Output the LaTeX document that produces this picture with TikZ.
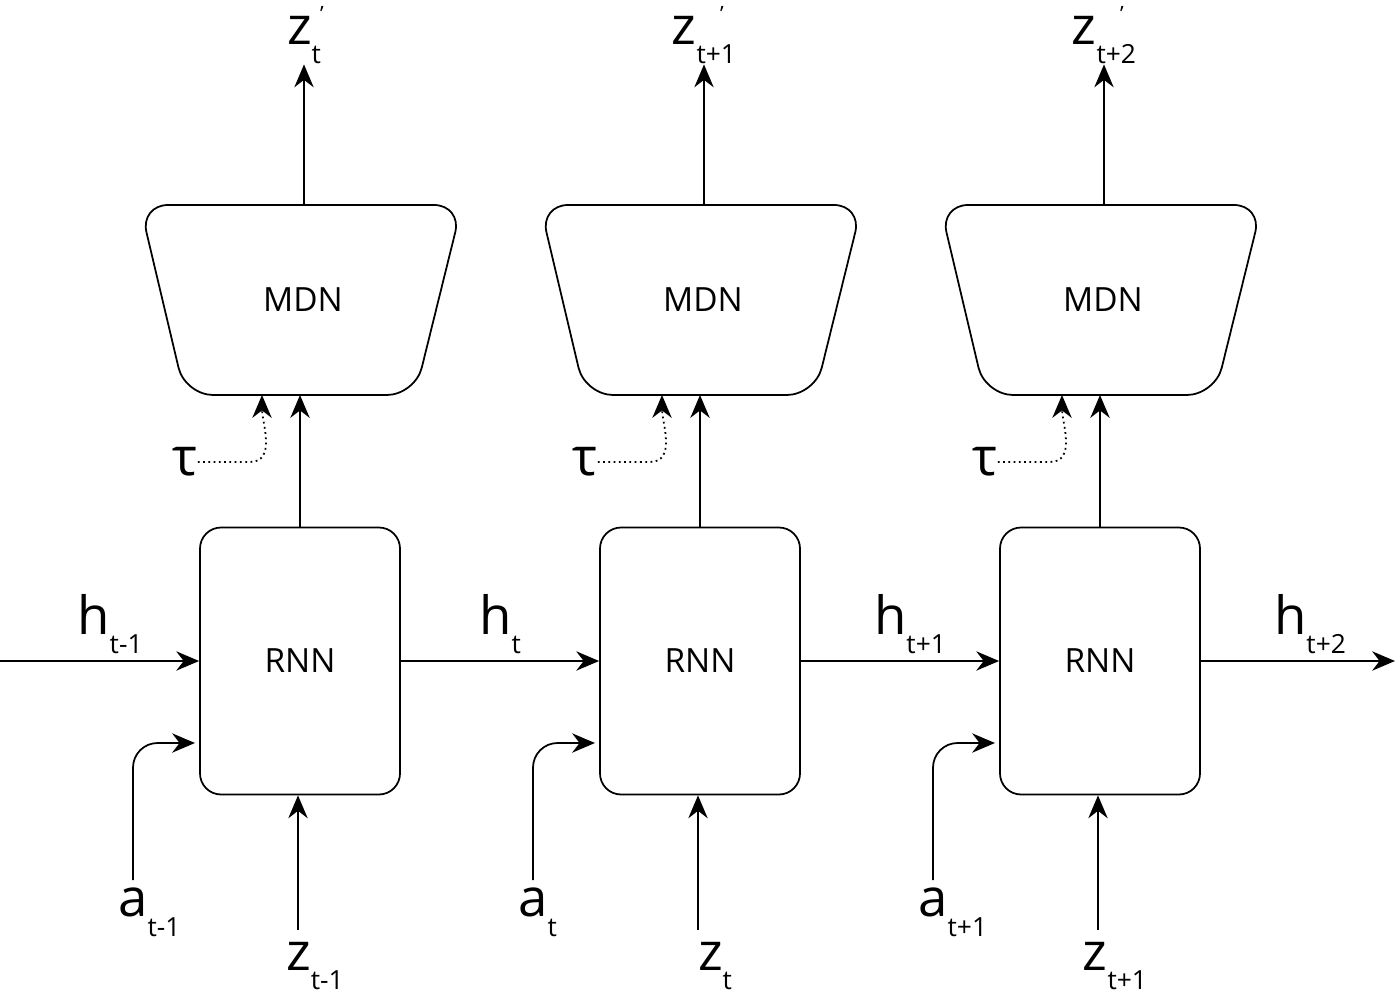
\documentclass[tikz,border=0pt]{standalone}
\usepackage{fontspec}
\setmainfont{Open Sans}
\usetikzlibrary{arrows.meta}
\newcommand\subtx[1]{\raisebox{-0.7ex}{\fontsize{15}{15}\selectfont #1}}
\begin{document}
\begin{tikzpicture}[x=0.02cm,y=-0.02cm,
  ln/.style={line width=1pt},
  ar/.style={ln,-{Stealth[length=13pt,width=11pt]}},
  big/.style={font=\fontsize{30}{30}\selectfont,inner sep=0pt},
  mid/.style={font=\fontsize{19}{19}\selectfont}]
\useasboundingbox (0,0) rectangle (1397,997);
\foreach \i/\c/\prev/\hn/\an/\zn/\zp in {1/300/t-1/t/t-1/t-1/t,2/700/t/t+1/t/t/t+1,3/1100/t+1/t+2/t+1/t+1/t+2}{
  \node[draw,ln,rounded corners=12pt,minimum width=200*0.02cm,minimum height=267*0.02cm,mid] (rnn\i) at (\c,661) {RNN};
  \draw[ln,rounded corners=16pt] (\c-160,205) -- (\c+162,205) -- (\c+115,395) -- (\c-115,395) -- cycle;
  \node[mid] (mdn\i) at (\c+3,300) {MDN};
  \coordinate (mb\i) at (\c,395);
  \coordinate (mt\i) at (\c+4,205);
  \coordinate (tb\i) at (\c-38,395);
  \node[big] (zo\i) at (\c+4,40) {z\subtx{\zp}};
  \node[font=\fontsize{12}{12}\selectfont] at (\c+22,14) {'};
  \draw[ar] (mt\i) -- (zo\i.south -| mt\i);
  \draw[ar] (rnn\i.north) -- (mb\i);
  \node[big] (tau\i) at (\c-115,462) {τ};
  \draw[ln,dotted,-{Stealth[length=13pt,width=11pt]}] (tau\i.east) -- (\c-50,462) to[out=0,in=-90] (tb\i);
  \node[big,anchor=west] (a\i) at (\c-182,912) {a\subtx{\an}};
  \coordinate (ai\i) at (\c-105,743);
  \draw[ar,rounded corners=14pt] (\c-167,880) -- (\c-167,743) -- (ai\i);
  \node[big] (zi\i) at (\c+15,966) {z\subtx{\zn}};
  \draw[ar] (\c-2,930) -- (rnn\i.south -| \c-2,0);
}
\coordinate (hin) at (0,661);
\coordinate (hout) at (1395,661);
\draw[ar] (hin) -- (rnn1.west);
\draw[ar] (rnn1.east) -- (rnn2.west);
\draw[ar] (rnn2.east) -- (rnn3.west);
\draw[ar] (rnn3.east) -- (hout);
\node[big] (h1) at (110,624) {h\subtx{t-1}};
\node[big] (h2) at (500,624) {h\subtx{t}};
\node[big] (h3) at (910,624) {h\subtx{t+1}};
\node[big] (h4) at (1310,624) {h\subtx{t+2}};
\end{tikzpicture}
\end{document}
